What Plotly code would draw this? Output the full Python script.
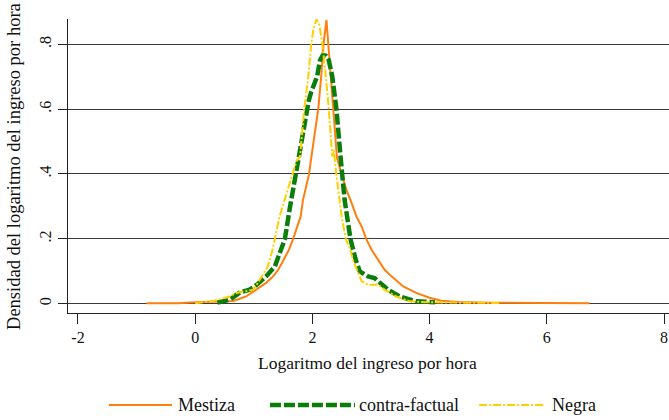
import plotly.graph_objects as go

# ---- data (log hourly income, density) ----
mestiza_x = [-0.83, -0.3, 0.0, 0.2, 0.45, 0.65, 0.87, 1.05, 1.21, 1.33, 1.42, 1.51, 1.60, 1.67,
             1.80, 1.84, 1.94, 2.00, 2.05, 2.10, 2.15, 2.19, 2.24, 2.27, 2.31, 2.35, 2.42,
             2.50, 2.58, 2.67, 2.75, 2.84, 2.92, 3.01, 3.12, 3.23, 3.35, 3.55, 3.77, 4.00,
             4.2, 4.5, 5.0, 5.5, 6.0, 6.73]
mestiza_y = [0.001, 0.001, 0.004, 0.005, 0.006, 0.008, 0.022, 0.043, 0.064, 0.084, 0.105, 0.135,
             0.166, 0.199, 0.269, 0.32, 0.397, 0.474, 0.54, 0.60, 0.70, 0.80, 0.875, 0.80,
             0.70, 0.60, 0.45, 0.397, 0.351, 0.310, 0.269, 0.238, 0.199, 0.166, 0.135, 0.105,
             0.084, 0.053, 0.033, 0.018, 0.009, 0.005, 0.003, 0.002, 0.002, 0.001]

contra_x = [0.38, 0.59, 0.76, 0.93, 1.05, 1.21, 1.36, 1.45, 1.53, 1.62, 1.71, 1.77, 1.85, 1.90,
            1.94, 1.98, 2.04, 2.08, 2.13, 2.18, 2.23, 2.28, 2.34, 2.41, 2.48, 2.51, 2.55,
            2.65, 2.69, 2.74, 2.81, 2.95, 3.06, 3.15, 3.29, 3.49, 3.77, 4.09]
contra_y = [0.003, 0.012, 0.034, 0.043, 0.058, 0.084, 0.115, 0.155, 0.199, 0.30, 0.397, 0.454,
            0.546, 0.60, 0.628, 0.653, 0.68, 0.70, 0.751, 0.767, 0.765, 0.751, 0.70, 0.60,
            0.454, 0.397, 0.32, 0.199, 0.166, 0.135, 0.099, 0.084, 0.079, 0.064, 0.043,
            0.022, 0.007, 0.004]

negra_x = [0.0, 0.1, 0.3, 0.59, 0.70, 0.85, 0.99, 1.07, 1.24, 1.32, 1.36, 1.44, 1.56, 1.66,
           1.73, 1.79, 1.86, 1.93, 1.98, 2.02, 2.07, 2.12, 2.17, 2.23, 2.28, 2.34, 2.365,
           2.41, 2.47, 2.50, 2.57, 2.65, 2.69, 2.78, 2.84, 2.95, 3.12, 3.23, 3.43, 3.66,
           4.0, 4.5, 5.19]
negra_y = [0.001, 0.003, 0.008, 0.022, 0.033, 0.038, 0.043, 0.064, 0.115, 0.166, 0.199, 0.269,
           0.34, 0.397, 0.44, 0.454, 0.60, 0.70, 0.80, 0.85, 0.877, 0.86, 0.80, 0.70, 0.60,
           0.454, 0.474, 0.397, 0.32, 0.269, 0.199, 0.166, 0.135, 0.094, 0.069, 0.058,
           0.058, 0.043, 0.022, 0.007, 0.004, 0.003, 0.002]

x_ticks = [-2, 0, 2, 4, 6, 8]
x_tick_labels = ["-2", "0", "2", "4", "6", "8"]
y_ticks = [0, 0.2, 0.4, 0.6, 0.8]
y_tick_labels = ["0", ".2", ".4", ".6", ".8"]

series_names = ["Mestiza", "contra-factual", "Negra"]
colors = ["#FF7F0E", "#0A7D0A", "#FFD000"]
dashes = ["solid", "11px,3px", "8px,2px,2px,2px"]
widths = [2.0, 4.5, 2.0]

FONT = "Liberation Serif"

fig = go.Figure()
for xs, ys, name, c, d, w in zip([mestiza_x, contra_x, negra_x],
                                 [mestiza_y, contra_y, negra_y],
                                 series_names, colors, dashes, widths):
    fig.add_trace(go.Scatter(x=xs, y=ys, mode="lines", name=name, showlegend=False,
                             line=dict(color=c, dash=d, width=w)))

# manual legend below the plot (paper coordinates)
legend_lines = [(0.068, 0.173), (0.336, 0.4775), (0.684, 0.794)]
legend_text_x = [0.1797, 0.481, 0.802]
leg_y = -0.313
for (x0, x1), tx, name, c, d, w in zip(legend_lines, legend_text_x, series_names, colors, dashes, widths):
    fig.add_shape(type="line", xref="paper", yref="paper", x0=x0, x1=x1, y0=leg_y, y1=leg_y,
                  line=dict(color=c, dash=d, width=w))
    fig.add_annotation(xref="paper", yref="paper", x=tx, y=leg_y, text=name, showarrow=False,
                       xanchor="left", yanchor="middle", font=dict(family=FONT, size=18, color="#111"))

fig.add_annotation(xref="paper", yref="paper", x=0.499, y=-0.170, text="Logaritmo del ingreso por hora",
                   showarrow=False, xanchor="center", yanchor="middle",
                   font=dict(family=FONT, size=17.5, color="#111"))
fig.add_annotation(xref="paper", yref="paper", x=-0.0899, y=0.5,
                   text="Densidad del logaritmo del ingreso por hora", textangle=-90,
                   showarrow=False, xanchor="center", yanchor="middle",
                   font=dict(family=FONT, size=18.5, color="#111"))

fig.update_layout(
    width=669, height=420,
    margin=dict(l=68, r=0, t=19, b=107),
    paper_bgcolor="white", plot_bgcolor="white",
    font=dict(family=FONT, size=16, color="#111"),
    xaxis=dict(range=[-2.17, 8.085], tickvals=x_ticks, ticktext=x_tick_labels,
               ticks="outside", ticklen=10,
               tickcolor="#222", showline=True, linecolor="#222", linewidth=1,
               showgrid=False, zeroline=False, tickfont=dict(family=FONT, size=16)),
    yaxis=dict(range=[-0.029, 0.878], tickvals=y_ticks, ticktext=y_tick_labels,
               ticks="outside", ticklen=9, tickcolor="#222", tickangle=-90,
               ticklabelstandoff=1,
               showline=True, linecolor="#222", linewidth=1,
               showgrid=True, gridcolor="#3a3a3a", gridwidth=1, zeroline=False,
               tickfont=dict(family=FONT, size=16)),
)

fig.write_html("out.html", config={"displayModeBar": False},
               post_script="document.body.style.margin='0px';document.body.style.overflow='hidden';")
